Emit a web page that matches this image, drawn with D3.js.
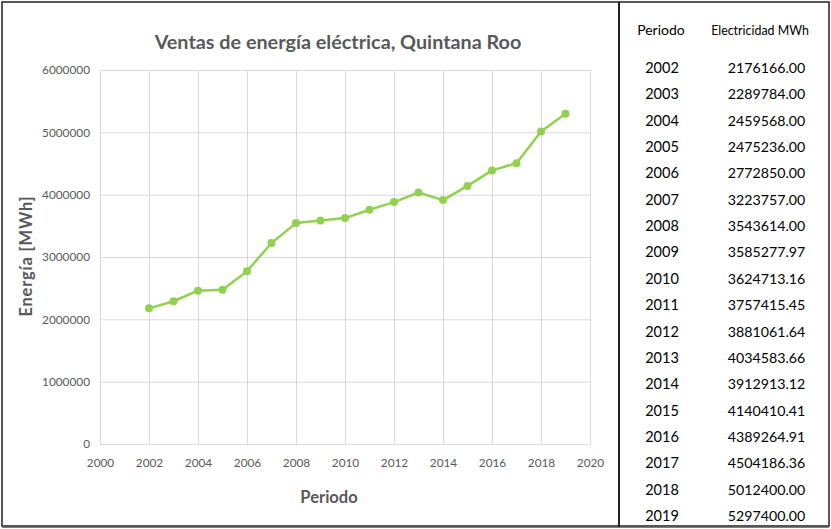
<!DOCTYPE html>
<html>
<head>
<meta charset="utf-8">
<script src="https://cdn.jsdelivr.net/npm/d3@7"></script>
<style>
  body { margin: 0; background: #fff; }
  text { font-family: Lato, "Open Sans", sans-serif; }
</style>
</head>
<body>
<div id="chart"></div>
<script>
// data from the table on the right
var years = [2002, 2003, 2004, 2005, 2006, 2007, 2008, 2009, 2010, 2011,
             2012, 2013, 2014, 2015, 2016, 2017, 2018, 2019];
var sales = [2176166.00, 2289784.00, 2459568.00, 2475236.00, 2772850.00, 3223757.00,
             3543614.00, 3585277.97, 3624713.16, 3757415.45, 3881061.64, 4034583.66,
             3912913.12, 4140410.41, 4389264.91, 4504186.36, 5012400.00, 5297400.00];
var xTicks = [2000, 2002, 2004, 2006, 2008, 2010, 2012, 2014, 2016, 2018, 2020];
var yTicks = [0, 1000000, 2000000, 3000000, 4000000, 5000000, 6000000];
var tableHeaders = ["Periodo", "Electricidad MWh"];

var W = 831, H = 529;
var margin = {top: 70, left: 100},
    width = 490,
    height = 374;

var svg = d3.select("#chart").append("svg")
    .attr("width", W)
    .attr("height", H);

var g = svg.append("g")
    .attr("transform", "translate(" + margin.left + "," + margin.top + ")");

var x = d3.scaleLinear().domain([2000, 2020]).range([0, width]);
var y = d3.scaleLinear().domain([0, 6000000]).range([height, 0]);

// vertical gridlines + x labels
var xAxis = g.append("g")
    .attr("transform", "translate(0," + height + ")")
    .call(d3.axisBottom(x).tickValues(xTicks).tickSize(-height).tickPadding(15).tickFormat(d3.format("d")));
xAxis.select(".domain").remove();
xAxis.selectAll(".tick line").attr("stroke", "#d9d9d9");
xAxis.selectAll(".tick text").attr("fill", "#595959").style("font-size", "11.8px");

// horizontal gridlines + y labels
var yAxis = g.append("g")
    .call(d3.axisLeft(y).tickValues(yTicks).tickSize(-width).tickPadding(10).tickFormat(d3.format("d")));
yAxis.select(".domain").remove();
yAxis.selectAll(".tick line").attr("stroke", "#d9d9d9");
yAxis.selectAll(".tick text").attr("fill", "#595959").style("font-size", "11.8px");

var pts = years.map(function(d, i) { return [d, sales[i]]; });

var line = d3.line()
    .x(function(d) { return x(d[0]); })
    .y(function(d) { return y(d[1]); });

g.append("path")
    .datum(pts)
    .attr("fill", "none")
    .attr("stroke", "#92d050")
    .attr("stroke-width", 2.5)
    .attr("stroke-linejoin", "round")
    .attr("d", line);

g.selectAll(".dot")
    .data(pts)
    .enter().append("circle")
    .attr("cx", function(d) { return x(d[0]); })
    .attr("cy", function(d) { return y(d[1]); })
    .attr("r", 4)
    .attr("fill", "#92d050");

// titles
svg.append("text")
    .attr("x", 338).attr("y", 49)
    .attr("text-anchor", "middle")
    .attr("fill", "#595959")
    .style("font-size", "19.8px").style("font-weight", "bold")
    .text("Ventas de energía eléctrica, Quintana Roo");

svg.append("text")
    .attr("x", 329).attr("y", 503)
    .attr("text-anchor", "middle")
    .attr("fill", "#595959")
    .style("font-size", "16.5px").style("font-weight", "bold")
    .text("Periodo");

svg.append("text")
    .attr("transform", "translate(32,256) rotate(-90)")
    .attr("text-anchor", "middle")
    .attr("fill", "#595959")
    .style("font-size", "16.5px").style("font-weight", "bold")
    .style("letter-spacing", "0.8px")
    .text("Energía [MWh]");

// table
var rowY = d3.scaleLinear().domain([2002, 2019]).range([68, 516]);

svg.append("text")
    .attr("x", 661).attr("y", 35)
    .attr("text-anchor", "middle")
    .attr("fill", "#000")
    .style("font-size", "14px")
    .text(tableHeaders[0]);
svg.append("text")
    .attr("x", 760).attr("y", 35)
    .attr("text-anchor", "middle")
    .attr("fill", "#000")
    .style("font-size", "12.4px")
    .text(tableHeaders[1]);

var rows = svg.selectAll(".row")
    .data(pts)
    .enter().append("g")
    .attr("transform", function(d) { return "translate(0," + rowY(d[0]) + ")"; });

rows.append("text")
    .attr("x", 662).attr("y", 5)
    .attr("text-anchor", "middle")
    .style("font-size", "14.5px")
    .text(function(d) { return d[0]; });

rows.append("text")
    .attr("x", 766.5).attr("y", 5)
    .attr("text-anchor", "middle")
    .style("font-size", "14.2px")
    .text(function(d) { return d[1].toFixed(2); });

// borders
svg.append("rect")
    .attr("x", 2).attr("y", 2).attr("width", 827).attr("height", 524)
    .attr("fill", "none").attr("stroke", "#222").attr("stroke-width", 1.5);
svg.append("line")
    .attr("x1", 2).attr("x2", 829).attr("y1", 526.5).attr("y2", 526.5)
    .attr("stroke", "#555").attr("stroke-width", 2.5);
svg.append("line")
    .attr("x1", 619).attr("x2", 619).attr("y1", 2).attr("y2", 527)
    .attr("stroke", "#222").attr("stroke-width", 2);
</script>
</body>
</html>
